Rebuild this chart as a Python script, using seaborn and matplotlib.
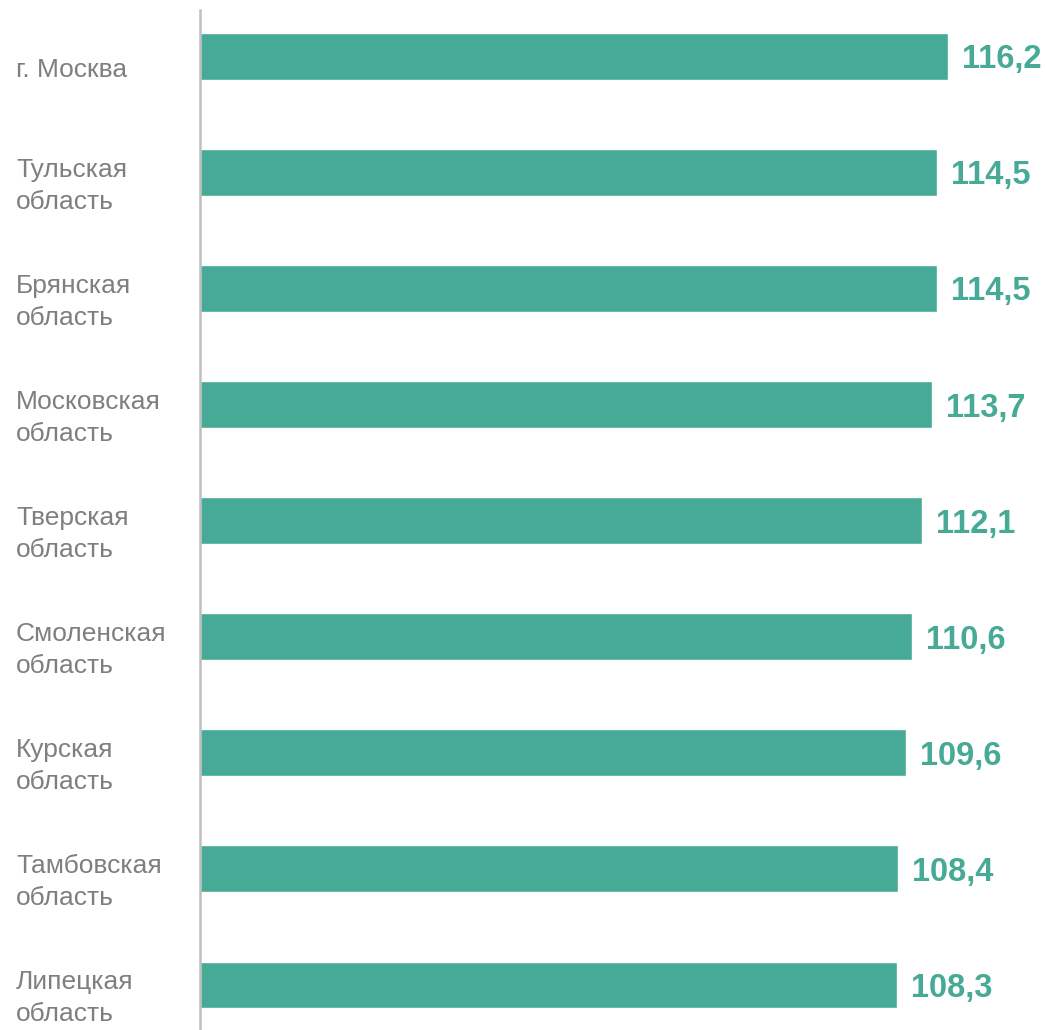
import matplotlib
matplotlib.use("Agg")
import matplotlib.pyplot as plt
import seaborn as sns
import pandas as pd

regions = ["г. Москва", "Тульская\nобласть", "Брянская\nобласть", "Московская\nобласть",
           "Тверская\nобласть", "Смоленская\nобласть", "Курская\nобласть",
           "Тамбовская\nобласть", "Липецкая\nобласть"]
values = [116.2, 114.5, 114.5, 113.7, 112.1, 110.6, 109.6, 108.4, 108.3]

BAR = "#46AA96"
GRAY_TXT = "#7F7F7F"

sns.set_theme(style="white")
plt.rcParams['font.family'] = ['Liberation Sans', 'DejaVu Sans']

W, H = 1046, 1030
fig = plt.figure(figsize=(W / 100, H / 100), dpi=100)
ax = fig.add_axes([200 / W, 0, 846 / W, 1 - 10 / H])

df = pd.DataFrame({"region": regions, "value": values})
sns.barplot(data=df, x="value", y="region", orient="h", color=BAR,
            saturation=1, width=0.4, ax=ax)

ax.set_xlim(0, 131.4)
ax.set_ylim(8.39, -0.40)
ax.set_xlabel("")
ax.set_ylabel("")
ax.set_xticks([])
ax.set_yticks([])
for s in ["top", "right", "bottom"]:
    ax.spines[s].set_visible(False)
ax.spines["left"].set_color("#BFBFBF")
ax.spines["left"].set_linewidth(1.8)

trans = matplotlib.transforms.blended_transform_factory(fig.transFigure, ax.transData)
for i, (r, v) in enumerate(zip(regions, values)):
    ax.text(16 / W, i + 0.115, r, transform=trans, ha="left", va="center",
            fontsize=19, color=GRAY_TXT, linespacing=1.4)
    ax.annotate(f"{v:.1f}".replace(".", ","), xy=(v, i), xytext=(10, 0),
                textcoords="offset points", ha="left", va="center_baseline",
                fontsize=23.5, fontweight="bold", color=BAR)

fig.savefig("out.png", dpi=100)
